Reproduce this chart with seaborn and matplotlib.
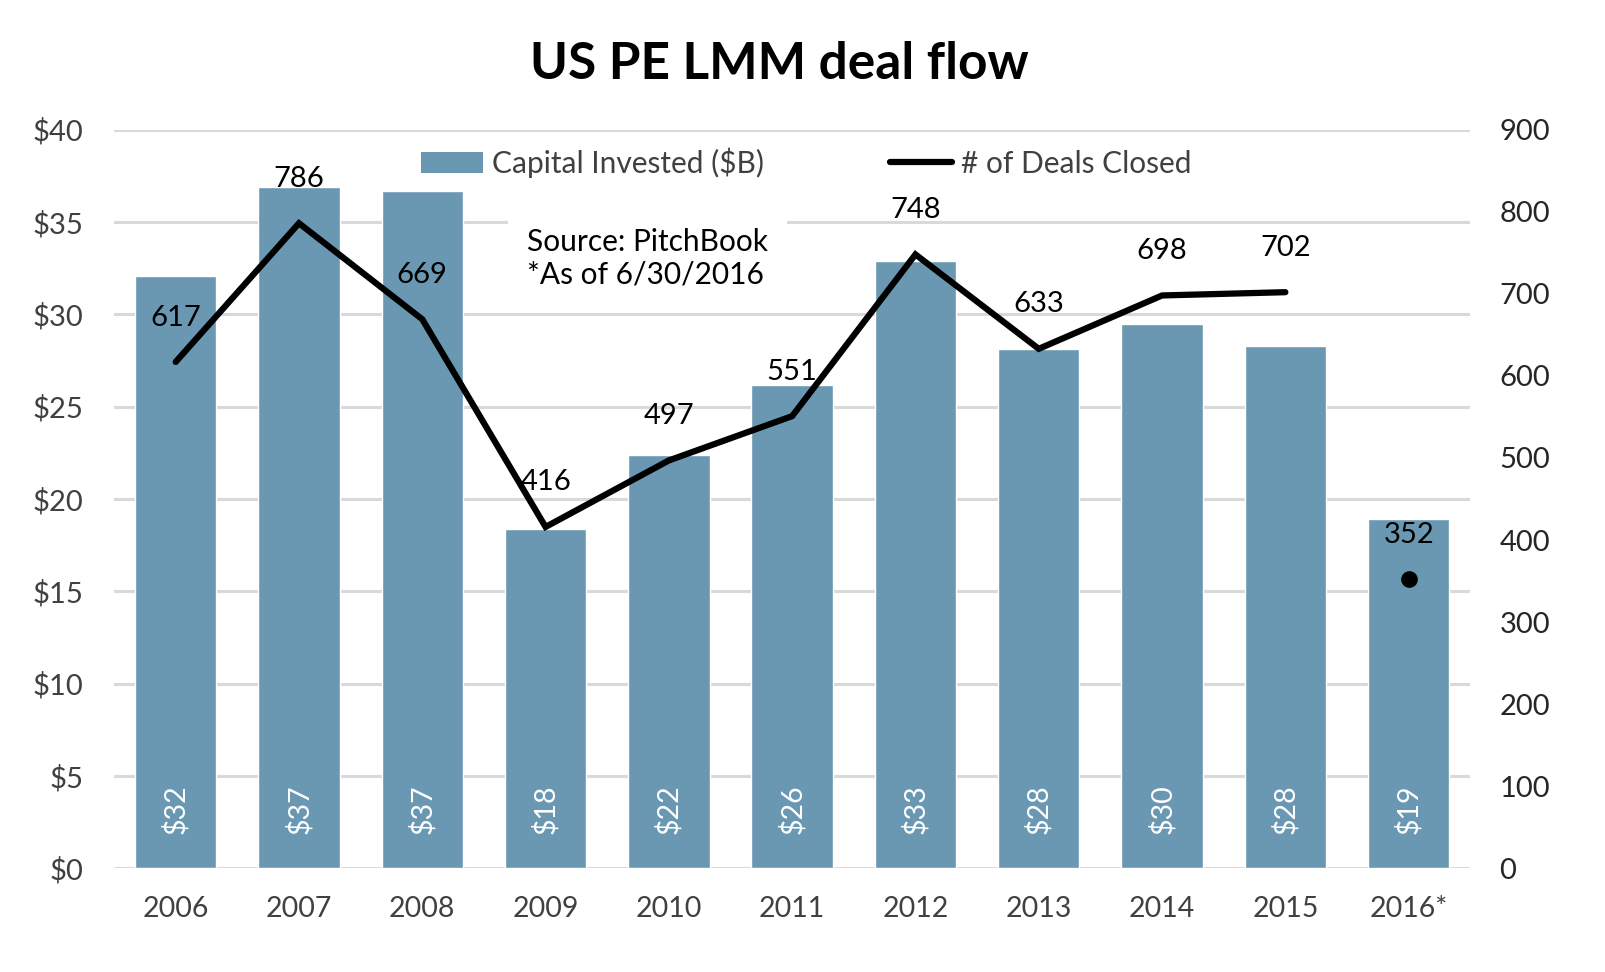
import numpy as np
import pandas as pd
import matplotlib
matplotlib.use('Agg')
import matplotlib.pyplot as plt
from matplotlib.patches import Patch
from matplotlib.lines import Line2D
from matplotlib.ticker import FuncFormatter, MultipleLocator
import matplotlib.transforms as mtransforms
import seaborn as sns

years = ['2006', '2007', '2008', '2009', '2010', '2011', '2012', '2013', '2014', '2015', '2016*']
capital = [32.1, 36.9, 36.7, 18.4, 22.4, 26.2, 32.9, 28.1, 29.5, 28.3, 18.9]
capital_labels = ['$32', '$37', '$37', '$18', '$22', '$26', '$33', '$28', '$30', '$28', '$19']
deals = [617, 786, 669, 416, 497, 551, 748, 633, 698, 702, 352]

bar_color = '#6a98b3'
grid_color = '#d9d9d9'
tick_color = '#404040'

sns.set_theme(style='white')
plt.rcParams['font.family'] = ['Lato', 'DejaVu Sans']

df = pd.DataFrame({'year': years, 'capital': capital, 'deals': deals})
pos = np.arange(len(years))

fig = plt.figure(figsize=(16.06, 9.72), dpi=100)
ax1 = fig.add_axes([0.071, 0.1066, 0.8445, 0.760])
ax2 = ax1.twinx()

sns.barplot(data=df, x='year', y='capital', color=bar_color, saturation=1,
            width=0.66, ax=ax1, zorder=2)
ax1.set_xlim(-0.5, len(years) - 0.5)
ax1.set_ylim(0, 40)
ax1.yaxis.set_major_locator(MultipleLocator(5))
ax1.yaxis.set_major_formatter(FuncFormatter(lambda v, _: f'${v:.0f}'))
ax1.grid(axis='y', color=grid_color, linewidth=2.2, zorder=0)
ax1.set_axisbelow(True)
ax1.set_xlabel('')
ax1.set_ylabel('')
ax1.tick_params(axis='y', length=0, pad=22, labelsize=21, labelcolor=tick_color)
ax1.tick_params(axis='x', length=0, pad=20, labelsize=20.5, labelcolor=tick_color)

for i, lab in enumerate(capital_labels):
    ax1.text(pos[i], 3.2, lab, rotation=90, ha='center', va='center',
             color='white', fontsize=20.5, zorder=3)

# line for complete years, single dot for partial 2016
sns.lineplot(x=pos[:-1], y=deals[:-1], color='black', linewidth=4.5, ax=ax2,
             solid_capstyle='round', solid_joinstyle='miter')
ax2.plot(pos[-1], deals[-1], 'o', color='black', markersize=11)
ax2.set_ylim(0, 900)
ax2.yaxis.set_major_locator(MultipleLocator(100))
ax2.tick_params(axis='y', length=0, pad=21, labelsize=21, labelcolor='#262626')
ax2.grid(False)
ax2.set_ylabel('')

for i, d in enumerate(deals):
    ax2.annotate(str(d), (pos[i], d), xytext=(0, 32), textcoords='offset points',
                 ha='center', va='center', fontsize=21, color='black')

for ax in (ax1, ax2):
    for s in ax.spines.values():
        s.set_visible(False)

trans = mtransforms.blended_transform_factory(ax2.transData, ax2.transAxes)
ax2.text(2.85, 0.826, 'Source: PitchBook\n*As of 6/30/2016', transform=trans,
         ha='left', va='center', fontsize=21.5, color='black', linespacing=1.2,
         bbox=dict(facecolor='white', edgecolor='none', pad=14), zorder=5)

handles = [Patch(facecolor=bar_color, edgecolor='none'),
           Line2D([0], [0], color='black', linewidth=4.5, solid_capstyle='round')]
fig.legend(handles, ['Capital Invested ($B)', '# of Deals Closed'], ncol=2,
           loc='center', bbox_to_anchor=(0.502, 0.833), frameon=False,
           fontsize=21.5, handlelength=2.1, handletextpad=0.3, columnspacing=4.2,
           labelcolor=tick_color)

fig.text(0.4855, 0.934, 'US PE LMM deal flow', ha='center', va='center',
         fontsize=37, fontweight='bold', color='black')

fig.savefig('out.png', dpi=100)
